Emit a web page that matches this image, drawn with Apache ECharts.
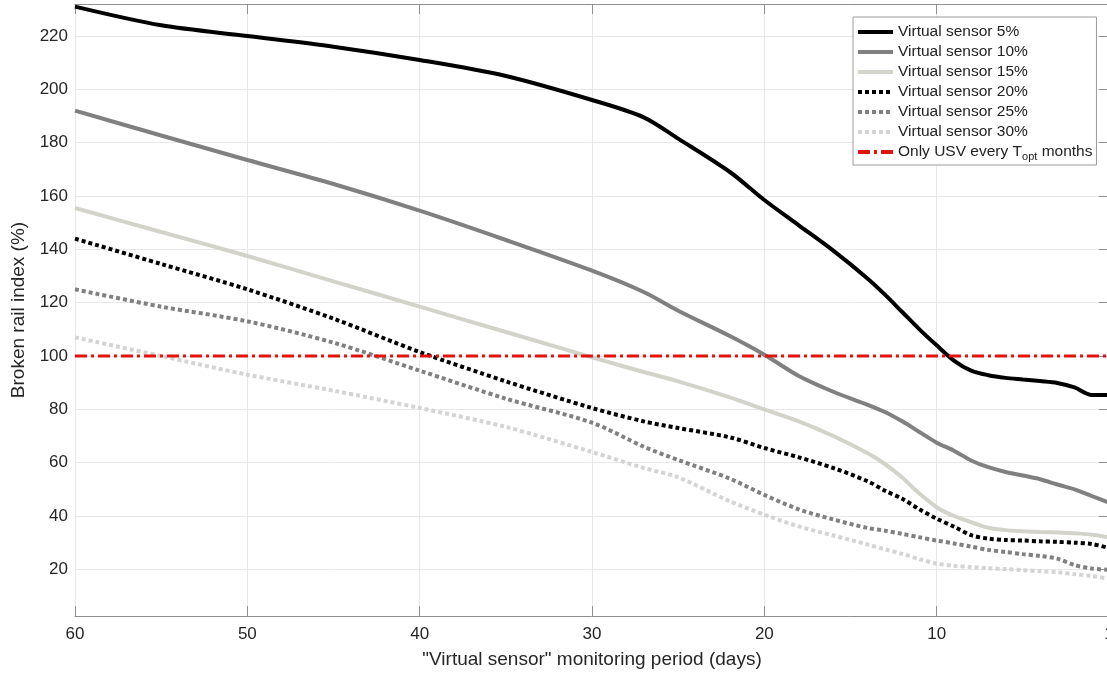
<!DOCTYPE html>
<html>
<head>
<meta charset="utf-8">
<script src="https://cdn.jsdelivr.net/npm/echarts@6/dist/echarts.min.js"></script>
<style>
html,body{margin:0;padding:0;background:#fff;}
#chart{width:1107px;height:675px;}
</style>
</head>
<body>
<div id="chart"></div>
<script>
// monitoring period (days)
const days = [60,55,50,45,40,35,30,27,25,22,20,18,16,14,13,12,11,10,9,8,7,6,5,4,3,2,1,0];
const vs5  = [231,224,220,216,211,205,196,189.5,181.5,169,158.5,149,139.5,129,123,116.5,110,104,98.3,94.5,92.8,91.8,91.2,90.6,89.9,88.2,85.4,85.4];
const vs10 = [192,182.7,173.5,164.5,154.5,143.5,132,124,117,107.5,100.5,92.5,86.6,81.7,79,75.5,71.5,67.5,64.5,60.8,58.3,56.5,55.2,53.8,51.8,50,47.5,45];
const vs15 = [155.5,146.5,137.5,128,118.5,109,99.5,94,90.5,84.5,80,75.5,70,63.5,59.5,54.4,48.4,43.3,40,37.7,35.6,34.7,34.3,34,33.8,33.5,33,32];
const vs20 = [144,134.5,125,114,101.5,90.5,80.5,75.5,73,69.5,65.5,62,58,53,49.5,46.5,42.5,39,36,32.8,31.5,31,30.8,30.5,30.3,30,29.5,28];
const vs25 = [125,118.5,113,105,94.5,84,75,66,61,54,47.9,42.5,38.7,35.5,34.5,33.3,32,30.8,29.7,28.5,27.3,26.5,25.7,25,24,21.6,20.3,19.8];
const vs30 = [107,100,93,87,80.5,73.4,64,58,54.5,45.5,40.5,36.1,32.7,29.3,27.5,25.8,23.8,22.2,21.3,20.9,20.4,20.1,19.7,19.3,18.9,18.2,17.5,16.5];
const usvLevel = 100;
const seriesNames = ['Virtual sensor 5%','Virtual sensor 10%','Virtual sensor 15%','Virtual sensor 20%','Virtual sensor 25%','Virtual sensor 30%','Only USV every Topt months'];
// x tick values and their printed labels
const xTickValues = [60,50,40,30,20,10,0];
const xTickLabels = ['60','50','40','30','20','10','1'];

const FONT = 'Liberation Sans, Arial, Helvetica, sans-serif';
const pair = (arr) => days.map((d, i) => [d, arr[i]]);

const styles = [
  {color:'#000000', type:'solid', width:4},
  {color:'#808080', type:'solid', width:4},
  {color:'#d3d3cc', type:'solid', width:4},
  {color:'#000000', type:[4,3], width:4},
  {color:'#808080', type:[4,3], width:4},
  {color:'#d4d4d4', type:[4,3], width:4}
];
const dataSets = [vs5, vs10, vs15, vs20, vs25, vs30];

const series = dataSets.map((arr, i) => ({
  name: seriesNames[i],
  type: 'line',
  data: pair(arr),
  symbol: 'none',
  smooth: 0.3,
  lineStyle: {color: styles[i].color, type: styles[i].type, width: styles[i].width, cap: 'butt'},
  itemStyle: {color: styles[i].color},
  z: 3
}));
series.push({
  name: seriesNames[6],
  type: 'line',
  data: [[days[0], usvLevel], [days[days.length-1], usvLevel]],
  symbol: 'none',
  lineStyle: {color:'#e3120b', type:[12,4,3,4], width:3},
  itemStyle: {color:'#e3120b'},
  z: 4
});

const axisLineColor = '#8f8f8f';
const chart = echarts.init(document.getElementById('chart'), null, {renderer:'canvas'});
chart.setOption({
  animation: false,
  backgroundColor: '#ffffff',
  grid: {left: 75, right: -2, top: 4, bottom: 59, containLabel: false, outerBoundsMode: 'none'},
  legend: {
    orient: 'vertical',
    left: 853, top: 17,
    padding: [7, 4, 3, 3],
    itemWidth: 35, itemHeight: 14, itemGap: 4,
    itemStyle: {opacity: 0},
    lineStyle: {width: 4},
    backgroundColor: '#ffffff',
    borderColor: '#9a9a9a', borderWidth: 1,
    data: seriesNames,
    textStyle: {
      fontFamily: FONT, fontSize: 15.5, color: '#222',
      rich: {
        n: {fontFamily: FONT, fontSize: 15.5, color:'#222', lineHeight: 20},
        s: {fontFamily: FONT, fontSize: 11, color:'#222', lineHeight: 8, verticalAlign: 'bottom'}
      }
    },
    itemTextGap: 4,
    formatter: function (name) {
      if (name === seriesNames[6]) return '{n|Only USV every T}{s|opt}{n| months}';
      return name;
    }
  },
  xAxis: [{
    type: 'value', min: 0, max: 60, interval: 10, inverse: true,
    name: '"Virtual sensor" monitoring period (days)',
    nameLocation: 'middle', nameGap: 34,
    nameTextStyle: {fontFamily: FONT, fontSize: 19, color: '#262626'},
    axisLine: {show: true, lineStyle: {color: axisLineColor, width: 1}},
    axisTick: {show: true, inside: true, length: 10, lineStyle: {color: axisLineColor}},
    axisLabel: {fontFamily: FONT, fontSize: 17, color: '#262626', margin: 10,
      formatter: (v) => { const k = xTickValues.indexOf(v); return k >= 0 ? xTickLabels[k] : ''; }},
    splitLine: {show: true, lineStyle: {color: '#e8e8e8', width: 1}}
  }, {
    type: 'value', min: 0, max: 60, interval: 10, inverse: true, position: 'top',
    axisLine: {show: true, lineStyle: {color: axisLineColor, width: 1}},
    axisTick: {show: true, inside: true, length: 10, lineStyle: {color: axisLineColor}},
    axisLabel: {show: false}, splitLine: {show: false}
  }],
  yAxis: [{
    type: 'value', min: 2.5, max: 232, minInterval: 20, maxInterval: 20, splitNumber: 11,
    name: 'Broken rail index (%)',
    nameLocation: 'middle', nameGap: 46, nameRotate: 90,
    nameTextStyle: {fontFamily: FONT, fontSize: 19, color: '#262626'},
    axisLine: {show: true, lineStyle: {color: axisLineColor, width: 1}},
    axisTick: {show: true, inside: true, length: 10, lineStyle: {color: axisLineColor}},
    axisLabel: {fontFamily: FONT, fontSize: 17, color: '#262626', margin: 7, showMinLabel: false, showMaxLabel: false,
      formatter: (v) => (v % 20 === 0 ? String(v) : '')},
    splitLine: {show: true, lineStyle: {color: '#e8e8e8', width: 1}}
  }, {
    type: 'value', min: 2.5, max: 232, minInterval: 20, maxInterval: 20, splitNumber: 11, position: 'right',
    axisLine: {show: true, lineStyle: {color: axisLineColor, width: 1}},
    axisTick: {show: true, inside: true, length: 10, lineStyle: {color: axisLineColor}},
    axisLabel: {show: false}, splitLine: {show: false}
  }],
  series: series
});
</script>
</body>
</html>
